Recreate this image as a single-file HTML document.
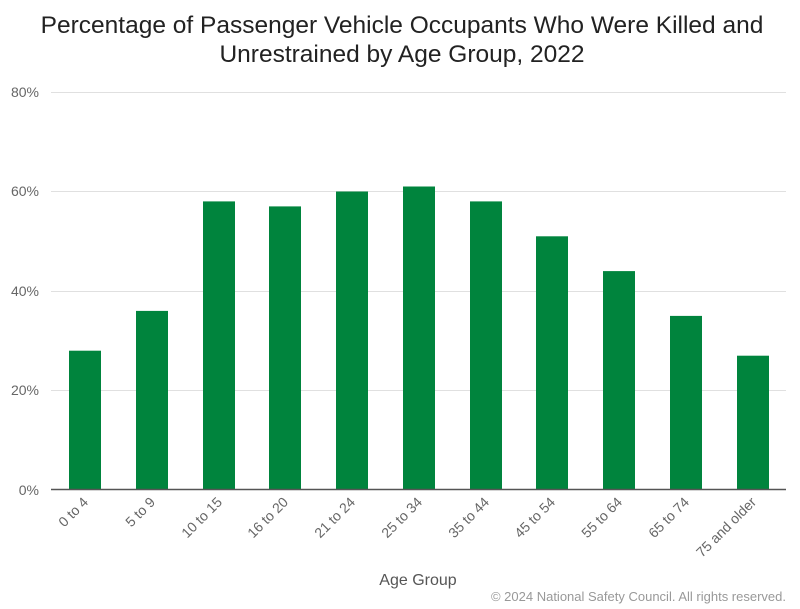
<!DOCTYPE html>
<html><head><meta charset="utf-8"><style>
body{margin:0;background:#fff;}
svg{display:block;font-family:"Liberation Sans",Arial,sans-serif;}
</style></head><body>
<svg width="800" height="609" viewBox="0 0 800 609" xmlns="http://www.w3.org/2000/svg">
<rect width="800" height="609" fill="#fff"/>
<text x="402" y="33" text-anchor="middle" font-size="24.5" fill="#222">Percentage of Passenger Vehicle Occupants Who Were Killed and</text>
<text x="402" y="62" text-anchor="middle" font-size="24.5" fill="#222">Unrestrained by Age Group, 2022</text>
<g stroke="#e0e0e0" stroke-width="1">
<line x1="51" x2="786" y1="92.5" y2="92.5"/>
<line x1="51" x2="786" y1="191.5" y2="191.5"/>
<line x1="51" x2="786" y1="291.5" y2="291.5"/>
<line x1="51" x2="786" y1="390.5" y2="390.5"/>
</g>
<g font-size="14" fill="#666" text-anchor="end">
<text x="39" y="97">80%</text>
<text x="39" y="196">60%</text>
<text x="39" y="296">40%</text>
<text x="39" y="395">20%</text>
<text x="39" y="495">0%</text>
</g>
<g fill="#00843d">
<rect x="69" y="350.7" width="32" height="139.3"/>
<rect x="136" y="310.9" width="32" height="179.1"/>
<rect x="203" y="201.4" width="32" height="288.6"/>
<rect x="269" y="206.4" width="32" height="283.6"/>
<rect x="336" y="191.5" width="32" height="298.5"/>
<rect x="403" y="186.5" width="32" height="303.5"/>
<rect x="470" y="201.4" width="32" height="288.6"/>
<rect x="536" y="236.3" width="32" height="253.7"/>
<rect x="603" y="271.1" width="32" height="218.9"/>
<rect x="670" y="315.9" width="32" height="174.1"/>
<rect x="737" y="355.7" width="32" height="134.3"/>
</g>
<line x1="51" x2="786" y1="489.5" y2="489.5" stroke="#555" stroke-width="1.5"/>
<g font-size="14" fill="#666" text-anchor="end">
<text transform="translate(89,503) rotate(-45)">0 to 4</text>
<text transform="translate(156,503) rotate(-45)">5 to 9</text>
<text transform="translate(223,503) rotate(-45)">10 to 15</text>
<text transform="translate(289,503) rotate(-45)">16 to 20</text>
<text transform="translate(356,503) rotate(-45)">21 to 24</text>
<text transform="translate(423,503) rotate(-45)">25 to 34</text>
<text transform="translate(490,503) rotate(-45)">35 to 44</text>
<text transform="translate(556,503) rotate(-45)">45 to 54</text>
<text transform="translate(623,503) rotate(-45)">55 to 64</text>
<text transform="translate(690,503) rotate(-45)">65 to 74</text>
<text transform="translate(757,503) rotate(-45)">75 and older</text>
</g>
<text x="418" y="585" text-anchor="middle" font-size="16" fill="#555">Age Group</text>
<text x="786" y="601" text-anchor="end" font-size="13" fill="#999">© 2024 National Safety Council. All rights reserved.</text>
</svg>
</body></html>
